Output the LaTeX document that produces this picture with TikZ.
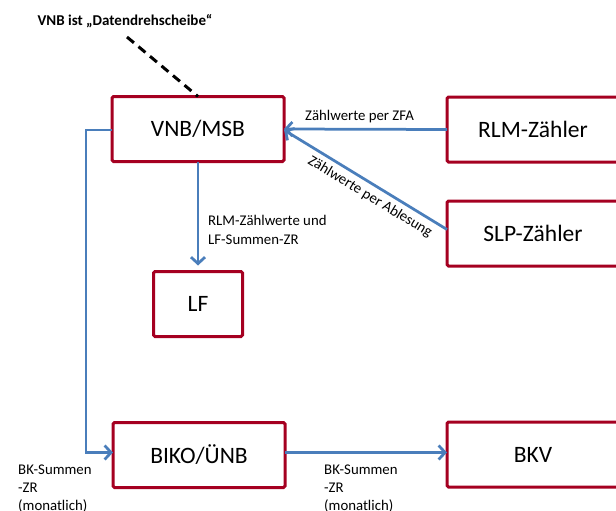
\documentclass[tikz,border=0pt]{standalone}
\usepackage{fontspec}
\setmainfont{Carlito}
\usetikzlibrary{arrows.meta}
\definecolor{boxred}{HTML}{A50021}
\definecolor{flowblue}{HTML}{4A7EBB}
\begin{document}
\begin{tikzpicture}[x=1pt,y=-1pt,
  box/.style={draw=boxred, line width=3pt, rounded corners=1.5pt, minimum width=172pt,
    minimum height=65pt, inner sep=0pt, outer sep=0pt, font=\fontsize{23.5}{28}\selectfont},
  flow/.style={draw=flowblue, line width=2.75pt, -{Straight Barb[length=6.5pt,width=14pt]}},
  lbl/.style={font=\fontsize{14.8}{18.3}\selectfont, inner sep=0pt, align=left}]
\useasboundingbox (0,0) rectangle (616,511);
\node[box] (vnb) at (198,129) {VNB/MSB};
\node[box] (rlm) at (533,129.5) {RLM-Zähler};
\node[box] (slp) at (533,233.5) {SLP-Zähler};
\node[box, minimum width=89pt] (lf) at (198,304) {LF};
\node[box] (biko) at (199,455) {BIKO/ÜNB};
\node[box] (bkv) at (533,454.5) {BKV};
% dashed pointer
\coordinate (dstart) at (127,37);
\draw[black, line width=3pt, dash pattern=on 9pt off 6pt] (dstart) -- (vnb.north);
\node[font=\bfseries\fontsize{15}{18}\selectfont, anchor=base, inner sep=0pt] (title) at (125,26) {VNB ist „Datendrehscheibe“};
% flows
\draw[flow] (rlm.west) -- (vnb.east);
\draw[flow] ([yshift=4pt]slp.west) -- ([yshift=-1pt]vnb.east);
\draw[flow, shorten >=6pt] (vnb.south) -- (lf.north);
\draw[flow] ([yshift=-1pt]vnb.west) -- ++(-26,0) coordinate (bend) |- ([yshift=2.5pt]biko.west);
\draw[flow] ([yshift=2.5pt]biko.east) -- ([yshift=2pt]bkv.west);
% labels
\node[lbl, anchor=base west] (zfa) at (305,121) {Zählwerte per ZFA};
\node[lbl, rotate=-31.5] (abl) at (370,197) {Zählwerte per Ablesung};
\node[lbl, anchor=base west] (lflbl) at (208,244) {RLM-Zählwerte und\\LF-Summen-ZR};
\node[lbl, anchor=base west] (bk1) at (18,510.6) {BK-Summen\\-ZR\\(monatlich)};
\node[lbl, anchor=base west] (bk2) at (324,510.6) {BK-Summen\\-ZR\\(monatlich)};
\end{tikzpicture}
\end{document}
